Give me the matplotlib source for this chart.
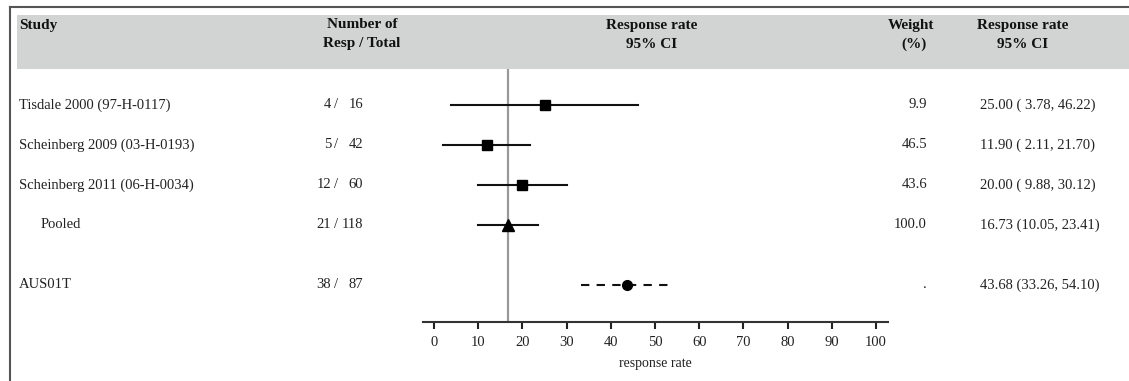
"""Forest plot of response rates: three studies, pooled estimate and AUS01T."""

import matplotlib

matplotlib.use("Agg")
import matplotlib.pyplot as plt
from matplotlib.patches import Rectangle
from matplotlib.transforms import blended_transform_factory

W, H = 1129, 381
FONT = ["Liberation Serif", "DejaVu Serif"]

STUDIES = ["Tisdale 2000 (97-H-0117)", "Scheinberg 2009 (03-H-0193)",
           "Scheinberg 2011 (06-H-0034)", "Pooled", "AUS01T"]
RESP = [4, 5, 12, 21, 38]
TOTAL = [16, 42, 60, 118, 87]
RATE = [25.00, 11.90, 20.00, 16.73, 43.68]
LOWER = [3.78, 2.11, 9.88, 10.05, 33.26]
UPPER = [46.22, 21.70, 30.12, 23.41, 54.10]
WEIGHT = ["9.9", "46.5", "43.6", "100.0", "."]
ROW = [0, 1, 2, 3, 4.5]
MARKERS = ["s", "s", "s", "^", "o"]
DASHED = [False, False, False, False, True]
XTICKS = [0, 10, 20, 30, 40, 50, 60, 70, 80, 90, 100]


def fx(px):
    return px / W


def fy(py):
    return 1 - py / H


def main():
    plt.rcParams["font.family"] = FONT
    fig = plt.figure(figsize=(W / 100, H / 100), dpi=100)

    # frame + grey header band
    fig.add_artist(plt.Line2D([fx(10), fx(10)], [fy(7), 0], color="#555555", lw=1.5))
    fig.add_artist(plt.Line2D([fx(10), 1], [fy(7), fy(7)], color="#555555", lw=1.5))
    fig.add_artist(Rectangle((fx(17), fy(69)), 1 - fx(17), fy(15) - fy(69),
                             transform=fig.transFigure, color="#d2d3d3", lw=0))

    hdr = dict(fontsize=11, fontweight="bold", va="center", color="#111111")
    fig.text(fx(19), fy(25), "Study", ha="left", **hdr)
    fig.text(fx(362), fy(25), "Number of", ha="center", **hdr)
    fig.text(fx(362), fy(44), "Resp / Total", ha="center", **hdr)
    fig.text(fx(652), fy(25), "Response rate", ha="center", **hdr)
    fig.text(fx(652), fy(44), "95% CI", ha="center", **hdr)
    fig.text(fx(911), fy(25), "Weight", ha="center", **hdr)
    fig.text(fx(914), fy(44), "(%)", ha="center", **hdr)
    fig.text(fx(1023), fy(25), "Response rate", ha="center", **hdr)
    fig.text(fx(1023), fy(44), "95% CI", ha="center", **hdr)

    ax = fig.add_axes([fx(423), fy(322), fx(888) - fx(423), fy(69) - fy(322)])
    ax.set_xlim(-2.5, 102.7)
    ax.set_ylim(5.425, -0.9)
    for side in ("top", "right", "left"):
        ax.spines[side].set_visible(False)
    ax.spines["bottom"].set_linewidth(1.5)
    ax.spines["bottom"].set_color("#333333")
    ax.set_yticks([])
    ax.set_xticks(XTICKS)
    ax.tick_params(axis="x", length=5, width=1.5, color="#222222", pad=5,
                   labelsize=10.5, labelcolor="#222222")
    ax.set_xlabel("response rate", fontsize=10, labelpad=6, color="#222222")

    ax.axvline(RATE[3], color="#999999", lw=1.6, zorder=1)

    for i in range(len(STUDIES)):
        y = ROW[i]
        ls = (0, (4, 3.5)) if DASHED[i] else "-"
        ax.plot([LOWER[i], UPPER[i]], [y, y], color="#111111", lw=1.5, ls=ls, zorder=2)
        ax.plot(RATE[i], y, marker=MARKERS[i], color="black", ms=7 if MARKERS[i] != "^" else 8,
                zorder=3)

    tr = blended_transform_factory(fig.transFigure, ax.transData)
    txt = dict(fontsize=10.5, va="center", transform=tr, color="#222222")
    for i, name in enumerate(STUDIES):
        y = ROW[i]
        x0 = 41 if name == "Pooled" else 19
        fig.text(fx(x0), y, name, ha="left", **txt)
        fig.text(fx(331), y, f"{RESP[i]}", ha="right", **txt)
        fig.text(fx(336), y, "/", ha="center", **txt)
        fig.text(fx(363), y, f"{TOTAL[i]}", ha="right", **txt)
        fig.text(fx(927), y, WEIGHT[i], ha="right", **txt)
        fig.text(fx(980), y, f"{RATE[i]:5.2f} ({LOWER[i]:5.2f}, {UPPER[i]:5.2f})",
                 ha="left", **txt)

    fig.savefig("out.png", dpi=100)
    plt.close(fig)


if __name__ == "__main__":
    main()
